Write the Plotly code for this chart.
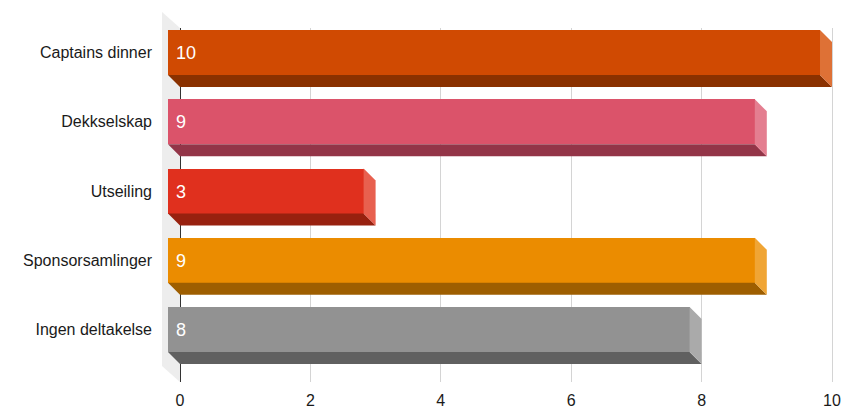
import plotly.graph_objects as go

# data
categories = ['Captains dinner', 'Dekkselskap', 'Utseiling', 'Sponsorsamlinger', 'Ingen deltakelse']
values = [10, 9, 3, 9, 8]
x_ticks = [0, 2, 4, 6, 8, 10]

front_colors = ['#D04A02', '#DB536A', '#E0301E', '#EB8C00', '#929292']
bottom_colors = ['#8A3100', '#933548', '#98210F', '#9E5E00', '#606060']
side_colors = ['#DE7136', '#E47E90', '#E8604F', '#F0A535', '#AAAAAA']

# page / plot area in pixels
W, H = 846, 409
L, R, T, B = 160, 6, 28, 27
X0_PX, X10_PX = 180, 832          # where 0 and 10 sit on the back plane
ROW0_PX, ROW_STEP = 52.5, 69.25   # centre of first bar front, row spacing
DEPTH = 12                        # 3d offset of bars, px
WALL_DX, WALL_DY = 18, 16         # 3d offset of the left wall, px

ppu = (X10_PX - X0_PX) / 10.0
x_range = [(L - X0_PX) / ppu, (W - R - X0_PX) / ppu]
plot_h = H - T - B
y_top = -(ROW0_PX - T) / ROW_STEP
y_bot = y_top + plot_h / ROW_STEP

dx = DEPTH / ppu
dy = DEPTH / ROW_STEP
bw = 45 / ROW_STEP
idx = list(range(len(categories)))

fig = go.Figure()

# front faces
fig.add_trace(go.Bar(
    y=idx, x=values, base=[-dx] * len(values), orientation='h', width=bw,
    marker=dict(color=front_colors, line=dict(width=0)),
    text=['\u00a0' + str(v) for v in values], textposition='inside', insidetextanchor='start',
    textfont=dict(color='white', size=18, family='Liberation Sans, Arial, sans-serif'),
    hoverinfo='skip', showlegend=False,
))

# bottom and right side faces
for i, v in enumerate(values):
    yb = i + bw / 2
    yt = i - bw / 2
    fig.add_trace(go.Scatter(
        x=[-dx, v - dx, v, 0, -dx], y=[yb, yb, yb + dy, yb + dy, yb],
        fill='toself', fillcolor=bottom_colors[i], mode='lines', line=dict(width=0),
        hoverinfo='skip', showlegend=False,
    ))
    fig.add_trace(go.Scatter(
        x=[v - dx, v, v, v - dx, v - dx], y=[yt, yt + dy, yb + dy, yb, yt],
        fill='toself', fillcolor=side_colors[i], mode='lines', line=dict(width=0),
        hoverinfo='skip', showlegend=False,
    ))

# left wall
wd = WALL_DX / ppu
wh = WALL_DY / plot_h
fig.add_shape(type='path', xref='x', yref='paper', layer='below',
              path=f'M 0 1 L {-wd} {1 + wh} L {-wd} {wh} L 0 0 Z',
              fillcolor='#EDEDED', line=dict(width=0))

fig.update_layout(
    width=W, height=H,
    margin=dict(l=L, r=R, t=T, b=B),
    paper_bgcolor='white', plot_bgcolor='white',
    font=dict(family='Liberation Sans, Arial, sans-serif', size=16, color='#1a1a1a'),
    bargap=0,
)
fig.update_xaxes(range=x_range, tickvals=x_ticks, showgrid=True, gridcolor='#D4D4D4', gridwidth=1,
                 zeroline=True, zerolinecolor='#333333', zerolinewidth=1, showline=False,
                 ticks='', ticklabelstandoff=7, automargin=False,
                 tickfont=dict(size=16, color='#1a1a1a'))
fig.update_yaxes(range=[y_bot, y_top], tickvals=idx, ticktext=categories, showgrid=False,
                 zeroline=False, showline=False, ticks='', ticklabelstandoff=7, automargin=False,
                 tickfont=dict(size=16, color='#1a1a1a'))

fig.write_html("out.html", config={'displayModeBar': False},
               post_script="document.body.style.margin='0';")
